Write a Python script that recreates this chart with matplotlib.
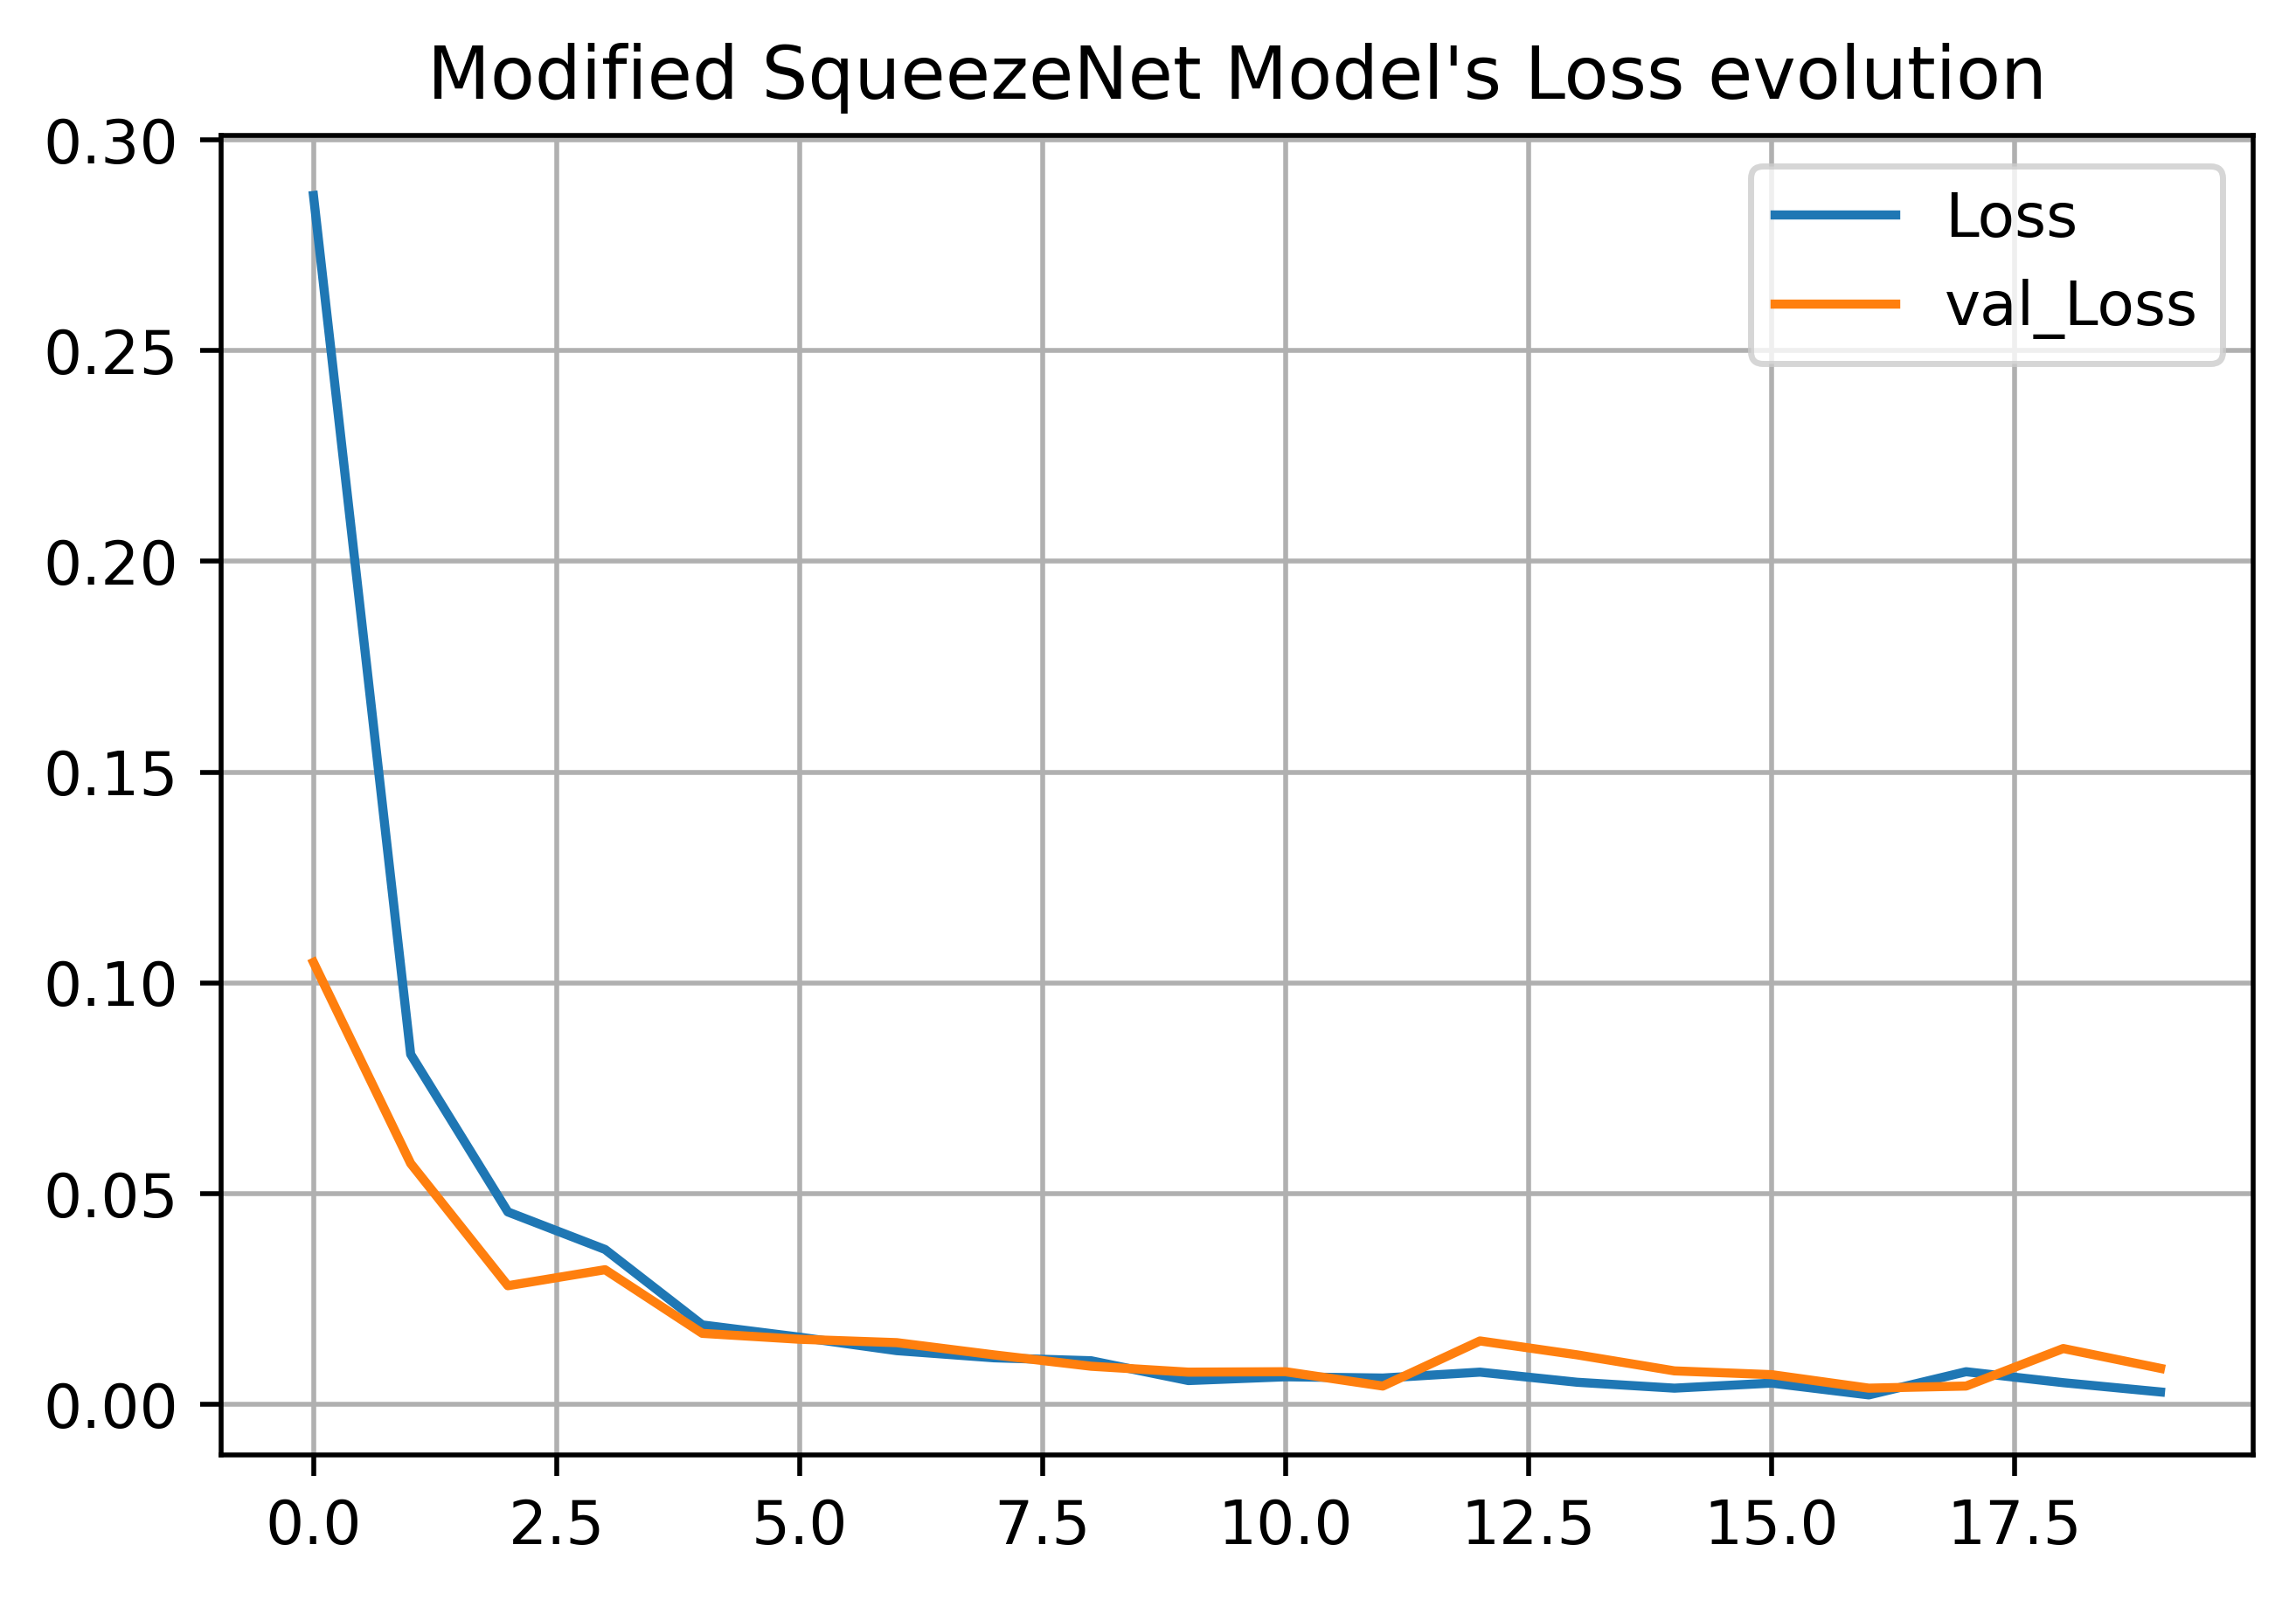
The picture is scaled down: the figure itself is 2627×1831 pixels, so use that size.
import matplotlib
matplotlib.use("Agg")
import matplotlib.pyplot as plt

epochs = list(range(20))
loss = [0.2868, 0.0831, 0.0457, 0.0368, 0.0189, 0.0160, 0.0128, 0.0111, 0.0104, 0.0057,
        0.0066, 0.0063, 0.0077, 0.0053, 0.0039, 0.0051, 0.0023, 0.0078, 0.0052, 0.0030]
val_loss = [0.1049, 0.0572, 0.0282, 0.0320, 0.0169, 0.0155, 0.0147, 0.0118, 0.0091, 0.0077,
            0.0078, 0.0044, 0.0151, 0.0118, 0.0080, 0.0071, 0.0039, 0.0044, 0.0133, 0.0086]

dpi = 500
fig = plt.figure(figsize=(2627 / dpi, 1831 / dpi), dpi=dpi)
ax = fig.add_axes([0.0963, 0.0907, 0.8849, 0.8246])
ax.plot(epochs, loss, label="Loss")
ax.plot(epochs, val_loss, label="val_Loss")
ax.set_title("Modified SqueezeNet Model's Loss evolution")
ax.grid(True)
ax.legend(loc="upper right")
fig.savefig("out.png", dpi=dpi)
